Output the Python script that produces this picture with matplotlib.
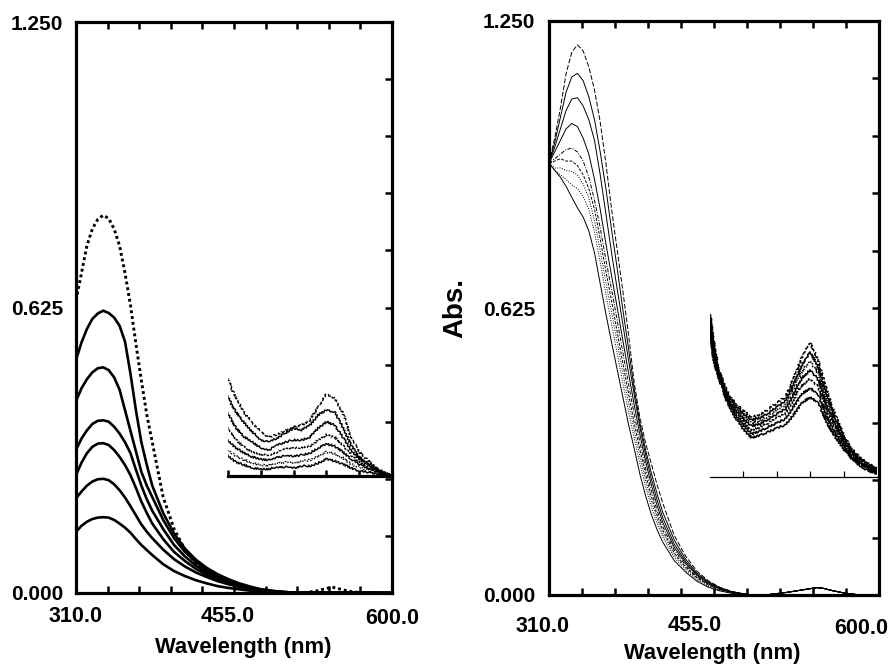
"""Two UV-vis absorbance panels with insets"""

import numpy as np
import matplotlib
matplotlib.use("Agg")
import matplotlib.pyplot as plt
from matplotlib.transforms import ScaledTranslation

plt.rcParams['font.family'] = ['Liberation Sans', 'DejaVu Sans']
plt.rcParams['font.weight'] = 'bold'

# ---- left panel (thick curves) ----
wl_left = [310, 315, 320, 325, 330, 335, 340, 345, 350, 355, 360, 365, 370, 375,
           380, 390, 400, 410, 420, 430, 440, 450, 460, 470, 480, 490, 500, 510, 600]
left_solid = [
    [0.51, 0.548, 0.578, 0.600, 0.612, 0.618, 0.613, 0.603, 0.585, 0.550, 0.480, 0.400, 0.330, 0.280,
     0.235, 0.175, 0.130, 0.097, 0.073, 0.055, 0.041, 0.030, 0.021, 0.014, 0.008, 0.005, 0.002, 0.001, 0.0],
    [0.42, 0.448, 0.468, 0.483, 0.492, 0.494, 0.488, 0.472, 0.445, 0.400, 0.355, 0.310, 0.265, 0.235,
     0.210, 0.160, 0.120, 0.090, 0.068, 0.050, 0.037, 0.027, 0.019, 0.012, 0.007, 0.004, 0.002, 0.001, 0.0],
    [0.313, 0.338, 0.356, 0.370, 0.377, 0.378, 0.375, 0.364, 0.349, 0.330, 0.306, 0.270, 0.235, 0.205,
     0.180, 0.140, 0.105, 0.080, 0.060, 0.045, 0.033, 0.024, 0.017, 0.011, 0.007, 0.004, 0.002, 0.001, 0.0],
    [0.258, 0.285, 0.306, 0.320, 0.327, 0.328, 0.324, 0.313, 0.298, 0.280, 0.258, 0.230, 0.200, 0.175,
     0.152, 0.118, 0.090, 0.070, 0.053, 0.040, 0.030, 0.022, 0.015, 0.010, 0.006, 0.004, 0.002, 0.001, 0.0],
    [0.207, 0.222, 0.235, 0.244, 0.249, 0.250, 0.247, 0.238, 0.225, 0.209, 0.190, 0.170, 0.150, 0.134,
     0.120, 0.095, 0.074, 0.058, 0.045, 0.035, 0.026, 0.019, 0.013, 0.009, 0.006, 0.003, 0.002, 0.001, 0.0],
    [0.134, 0.147, 0.156, 0.162, 0.165, 0.166, 0.165, 0.160, 0.152, 0.143, 0.132, 0.118, 0.105, 0.094,
     0.083, 0.063, 0.048, 0.037, 0.028, 0.021, 0.015, 0.011, 0.008, 0.005, 0.003, 0.002, 0.001, 0.0, 0.0],
]
wl_dotted = [310, 315, 320, 325, 330, 335, 340, 345, 350, 355, 360, 365, 370, 375, 380, 390, 400,
             410, 420, 430, 440, 450, 460, 470, 480, 490, 500, 510, 520, 530, 540, 545, 550, 560,
             570, 580, 590, 600]
left_dotted = [0.641, 0.700, 0.760, 0.797, 0.818, 0.827, 0.820, 0.797, 0.760, 0.700, 0.630, 0.545,
               0.465, 0.390, 0.330, 0.210, 0.140, 0.095, 0.065, 0.045, 0.031, 0.021, 0.013, 0.008,
               0.004, 0.002, 0.0, 0.0, 0.001, 0.004, 0.010, 0.013, 0.010, 0.004, 0.001, 0.0, 0.0, 0.0]

# ---- right panel (thin curves) ----
wl_right = [310, 315, 320, 325, 330, 335, 340, 345, 350, 355, 360, 365, 370, 375, 380, 385,
            390, 395, 400, 405, 410, 420, 430, 440, 450, 460, 470, 480]
wl_tail = [490, 500, 510, 520, 530, 540, 545, 550, 560, 570, 580, 590, 600]
abs_tail = [0.0, 0.0, 0.003, 0.006, 0.010, 0.014, 0.016, 0.015, 0.009, 0.004, 0.001, 0.0, 0.0]
right_curves = [
    [0.94, 0.925, 0.91, 0.89, 0.866, 0.843, 0.823, 0.793, 0.745, 0.678, 0.612, 0.550, 0.490, 0.430,
     0.370, 0.318, 0.262, 0.215, 0.175, 0.142, 0.115, 0.075, 0.050, 0.030, 0.017, 0.009, 0.004, 0.001],
    [0.94, 0.925, 0.915, 0.905, 0.893, 0.885, 0.868, 0.84, 0.79, 0.725, 0.655, 0.59, 0.525, 0.46,
     0.398, 0.34, 0.285, 0.235, 0.192, 0.156, 0.126, 0.082, 0.054, 0.033, 0.019, 0.010, 0.005, 0.001],
    [0.94, 0.93, 0.93, 0.925, 0.922, 0.915, 0.895, 0.865, 0.815, 0.75, 0.68, 0.615, 0.55, 0.482,
     0.418, 0.357, 0.30, 0.248, 0.203, 0.165, 0.133, 0.087, 0.058, 0.036, 0.021, 0.011, 0.005, 0.002],
    [0.94, 0.945, 0.95, 0.945, 0.945, 0.935, 0.915, 0.885, 0.84, 0.775, 0.705, 0.64, 0.572, 0.503,
     0.437, 0.373, 0.315, 0.261, 0.214, 0.174, 0.141, 0.092, 0.061, 0.038, 0.022, 0.012, 0.006, 0.002],
    [0.94, 0.95, 0.96, 0.97, 0.973, 0.965, 0.945, 0.91, 0.86, 0.80, 0.73, 0.665, 0.597, 0.527,
     0.458, 0.392, 0.331, 0.275, 0.226, 0.184, 0.149, 0.098, 0.065, 0.040, 0.024, 0.013, 0.006, 0.002],
    [0.94, 0.965, 0.99, 1.015, 1.027, 1.02, 0.995, 0.96, 0.905, 0.84, 0.765, 0.695, 0.625, 0.553,
     0.482, 0.412, 0.348, 0.29, 0.239, 0.195, 0.158, 0.104, 0.069, 0.043, 0.025, 0.014, 0.007, 0.002],
    [0.94, 0.975, 1.015, 1.055, 1.08, 1.083, 1.065, 1.035, 0.99, 0.915, 0.83, 0.745, 0.665, 0.588,
     0.51, 0.434, 0.364, 0.304, 0.252, 0.207, 0.168, 0.111, 0.073, 0.045, 0.027, 0.015, 0.007, 0.003],
    [0.94, 0.985, 1.04, 1.095, 1.128, 1.136, 1.12, 1.085, 1.035, 0.965, 0.885, 0.795, 0.71, 0.62,
     0.535, 0.447, 0.373, 0.315, 0.265, 0.22, 0.18, 0.12, 0.078, 0.048, 0.029, 0.016, 0.008, 0.003],
    [0.94, 0.995, 1.06, 1.135, 1.182, 1.198, 1.185, 1.15, 1.10, 1.03, 0.94, 0.84, 0.75, 0.66,
     0.565, 0.46, 0.385, 0.33, 0.285, 0.24, 0.20, 0.13, 0.085, 0.052, 0.031, 0.017, 0.008, 0.003],
]
right_styles = ['-', (0, (1, 1.5)), (0, (1, 1.5)), (0, (3, 1.5)), (0, (4, 1.5, 1, 1.5)),
                '-', '-', '-', (0, (5, 2))]

# ---- insets (arbitrary units) ----
inset_x = [0, 0.1, 0.25, 0.5, 0.75, 1.0, 1.25, 1.5, 1.75, 2.0, 2.25, 2.5, 2.75, 3.0, 3.25, 3.5,
           3.75, 4.0, 4.25, 4.5, 4.75, 5.0]
left_inset = [
    [98, 88, 78, 63, 53, 44, 39, 41, 46, 49, 51, 56, 69, 82, 78, 63, 39, 24, 16, 9, 4, 1],
    [80, 72, 64, 53, 44, 36, 34, 38, 43, 48, 46, 51, 61, 66, 64, 49, 31, 19, 13, 8, 3, 1],
    [63, 56, 48, 39, 34, 28, 26, 31, 34, 36, 36, 39, 48, 54, 51, 39, 26, 17, 11, 7, 2, 0],
    [49, 42, 36, 29, 24, 21, 21, 24, 27, 28, 28, 30, 36, 41, 39, 31, 21, 14, 9, 6, 2, 0],
    [36, 32, 28, 23, 19, 17, 16, 19, 20, 20, 21, 23, 28, 32, 30, 24, 17, 12, 8, 5, 2, 0],
    [26, 23, 20, 16, 13, 11, 11, 13, 14, 13, 15, 16, 20, 24, 22, 18, 12, 9, 6, 4, 2, 0],
    [21, 17, 14, 11, 8, 7, 7, 9, 9, 8, 10, 10, 13, 17, 15, 12, 8, 5, 4, 2, 1, 0],
]
left_inset_styles = [(0, (3, 1.5)), '-', '-', (0, (2, 1)), '-', (0, (1, 1)), '-']
right_inset = [
    [164, 138, 109, 86, 74, 66, 60, 62, 68, 74, 80, 98, 120, 134, 116, 86, 62, 42, 28, 19, 13, 9],
    [162, 135, 108, 84, 72, 63, 57, 59, 64, 70, 76, 92, 112, 125, 109, 81, 59, 40, 26, 18, 12, 8],
    [160, 132, 106, 83, 70, 61, 54, 56, 61, 67, 72, 88, 106, 116, 103, 76, 56, 38, 25, 17, 11, 7],
    [157, 129, 105, 81, 68, 58, 51, 53, 58, 63, 68, 82, 99, 107, 97, 71, 52, 36, 24, 15, 10, 6],
    [155, 126, 104, 80, 66, 55, 47, 50, 54, 59, 63, 77, 92, 98, 90, 66, 49, 34, 22, 14, 9, 5],
    [152, 122, 102, 78, 63, 52, 43, 46, 50, 54, 58, 70, 83, 89, 82, 60, 44, 31, 20, 13, 8, 4],
    [150, 118, 100, 76, 60, 48, 39, 42, 45, 49, 52, 62, 74, 80, 74, 54, 40, 28, 18, 11, 6, 3],
]
right_inset_styles = [(0, (3, 1.5)), '-', (0, (1, 1)), '-', (0, (2, 1)), '-', '-']

x_ticks = [310 + 29 * i for i in range(11)]
x_labels = ['310.0', '', '', '', '', '455.0', '', '', '', '', '600.0']
y_ticks = [0.125 * i for i in range(11)]
y_labels = ['0.000', '', '', '', '', '0.625', '', '', '', '', '1.250']


def style_main(ax, lw_spine, xpad, ypad, label_shift):
    ax.set_xlim(310, 600)
    ax.set_ylim(0, 1.25)
    ax.set_xticks(x_ticks, x_labels)
    ax.set_yticks(y_ticks, y_labels)
    for sp in ax.spines.values():
        sp.set_linewidth(lw_spine)
    ax.tick_params(axis='x', direction='in', top=True, bottom=True, length=5, width=1.8,
                   pad=xpad, labelsize=15.5)
    ax.tick_params(axis='y', direction='in', left=False, right=True, length=5, width=1.8,
                   pad=ypad, labelsize=15)
    for tick, (dx, dy) in zip(ax.xaxis.get_major_ticks(), label_shift):
        lab = tick.label1
        lab.set_transform(lab.get_transform() + ScaledTranslation(dx / 100, dy / 100, fig.dpi_scale_trans))


def style_inset(ax, lw, ticks, tick_w):
    ax.set_xlim(0, 5)
    for side in ['top', 'left', 'right']:
        ax.spines[side].set_visible(False)
    ax.spines['bottom'].set_linewidth(lw)
    ax.patch.set_alpha(0)
    ax.set_xticks(ticks)
    ax.set_yticks([])
    ax.tick_params(axis='x', direction='in', length=4.5, width=tick_w, labelbottom=False)


fig = plt.figure(figsize=(8.9, 6.66), dpi=100)

# left panel
ax1 = fig.add_axes([76 / 890, 73 / 666, 316 / 890, 571 / 666])
for vals in left_solid:
    ax1.plot(wl_left, vals, color='black', lw=1.9, solid_capstyle='round')
ax1.plot(wl_dotted, left_dotted, color='black', lw=2.1, linestyle=(0, (1, 1)))
shift1 = [(0, 0)] * 5 + [(-6, 0)] + [(0, 0)] * 4 + [(0, -2)]
style_main(ax1, 2.3, 9, 9, shift1)
fig.text(243 / 890, 1 - 648 / 666, 'Wavelength (nm)', ha='center', va='center',
         fontsize=15.8, fontweight='bold')

ins1 = fig.add_axes([228 / 890, 190 / 666, 164 / 890, 110 / 666])
for vals, ls in zip(left_inset, left_inset_styles):
    ln, = ins1.plot(inset_x, vals, color='black', lw=1.0, linestyle=ls)
    ln.set_sketch_params(1.0, 3, 2)
ins1.set_ylim(0, 110)
style_inset(ins1, 2.3, [0, 1, 2, 3, 4], 1.8)

# right panel
ax2 = fig.add_axes([549 / 890, 71 / 666, 330 / 890, 574 / 666])
for vals, ls in zip(right_curves, right_styles):
    ax2.plot(wl_right + wl_tail, np.concatenate([vals, abs_tail]), color='black', lw=0.7,
             linestyle=ls)
shift2 = [(-6, -4)] + [(0, 0)] * 4 + [(-19, -3)] + [(0, 0)] * 4 + [(-18, -6)]
style_main(ax2, 2.3, 12, 10, shift2)
fig.text(712 / 890, 1 - 654 / 666, 'Wavelength (nm)', ha='center', va='center',
         fontsize=15.8, fontweight='bold')
fig.text(455 / 890, 1 - 308 / 666, 'Abs.', rotation=90, ha='center', va='center',
         fontsize=20, fontweight='bold')

ins2 = fig.add_axes([710 / 890, 189 / 666, 167 / 890, 175 / 666])
for vals, ls in zip(right_inset, right_inset_styles):
    ln, = ins2.plot(inset_x, vals, color='black', lw=1.1, linestyle=ls)
    ln.set_sketch_params(1.0, 3, 2)
ins2.set_ylim(0, 175)
style_inset(ins2, 0.9, [1, 2, 3, 4], 0.9)

fig.savefig('out.png', dpi=100, facecolor='white')
